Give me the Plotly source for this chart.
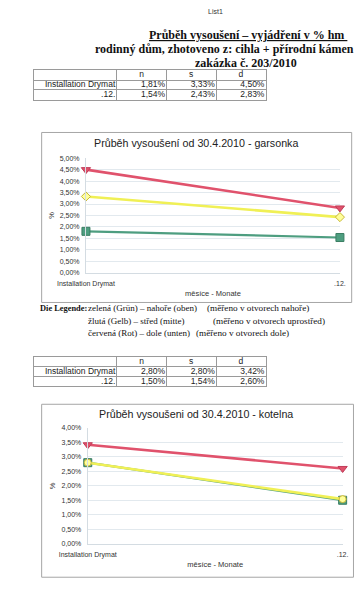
import plotly.graph_objects as go

W, H = 364, 600

# ---------------- data ----------------
categories = ["Installation Drymat", ".12."]
series_names = ["n", "s", "d"]

garsonka_n = [1.81, 1.54]
garsonka_s = [3.33, 2.43]
garsonka_d = [4.50, 2.83]

kotelna_n = [2.80, 1.50]
kotelna_s = [2.80, 1.54]
kotelna_d = [3.42, 2.60]

chart_titles = ["Průběh vysoušení od 30.4.2010 - garsonka",
                "Průběh vysoušeni od 30.4.2010 - kotelna"]
x_title = "měsíce - Monate"
y_title = "%"

heading_lines = ["<u>Průběh vysoušení – vyjádření v % hm </u>",
                 "rodinný dům, zhotoveno z: cihla + přírodní kámen",
                 "zakázka č. 203/2010"]

legend_label = "Die Legende:"
legend_col1 = ["zelená (Grün) – nahoře (oben)",
               "žlutá (Gelb) – střed (mitte)",
               "červená (Rot) – dole (unten)"]
legend_col2 = ["(měřeno v otvorech nahoře)",
               "(měřeno v otvorech uprostřed)",
               "(měřeno v otvorech dole)"]

# ---------------- helpers ----------------
def fx(x):
    return x / W

def fy(y):
    return 1 - y / H

def pct(v):
    return f"{v:.2f}".replace(".", ",") + "%"

SANS = "Liberation Sans, Arial, sans-serif"
SERIF = "Liberation Serif, Times New Roman, serif"

styles = {
    "n": dict(color="#4e9e80", width=2.2, symbol="square", msize=8,
              mfill="#4e9e80", medge="#3a7d63"),
    "s": dict(color="#f0f055", width=2.6, symbol="diamond", msize=7,
              mfill="#ffff9a", medge="#c8b838"),
    "d": dict(color="#e0526c", width=2.6, symbol="triangle-down", msize=8,
              mfill="#e0526c", medge="#c03c58"),
}

fig = go.Figure()
layout_axes = {}
shapes = []
annotations = []

# ---------------- tables (text marks on their own grid axes) ----------------
col_widths = [91, 55, 55, 55]
col_bounds = [0]
for w in col_widths:
    col_bounds.append(col_bounds[-1] + w)
TABLE_LINE = "#9a9a9a"
TFONT = dict(family=SANS, size=8.5, color="#222")

def add_table(idx, n, s, d, top):
    xs, ys = f"x{idx}", f"y{idx}"
    fig.add_trace(go.Scatter(
        x=[(col_bounds[j] + col_bounds[j + 1]) / 2 for j in range(1, 4)],
        y=[0.5] * 3, text=series_names, mode="text",
        textposition="middle center", textfont=TFONT,
        xaxis=xs, yaxis=ys, showlegend=False, hoverinfo="skip", cliponaxis=False))
    fig.add_trace(go.Scatter(
        x=[col_bounds[1] - 1.5] * len(categories),
        y=[r + 1.5 for r in range(len(categories))], text=categories,
        mode="text", textposition="middle left", textfont=TFONT,
        xaxis=xs, yaxis=ys, showlegend=False, hoverinfo="skip", cliponaxis=False))
    for j, vals in enumerate((n, s, d), start=2):
        fig.add_trace(go.Scatter(
            x=[col_bounds[j] - 1.5] * len(vals),
            y=[r + 1.5 for r in range(len(vals))], text=[pct(v) for v in vals],
            mode="text", textposition="middle left", textfont=TFONT,
            xaxis=xs, yaxis=ys, showlegend=False, hoverinfo="skip", cliponaxis=False))
    nrows = len(categories) + 1
    layout_axes[f"xaxis{idx}"] = dict(
        domain=[fx(6), fx(6 + col_bounds[-1])], anchor=ys,
        range=[0, col_bounds[-1]], tickvals=col_bounds, showticklabels=False,
        showgrid=True, gridcolor=TABLE_LINE, gridwidth=1, zeroline=False,
        showline=True, mirror=True, linecolor=TABLE_LINE, linewidth=1,
        ticks="", fixedrange=True)
    layout_axes[f"yaxis{idx}"] = dict(
        domain=[fy(top + 10 * nrows), fy(top)], anchor=xs,
        range=[nrows, 0], tickvals=list(range(nrows + 1)), showticklabels=False,
        showgrid=True, gridcolor=TABLE_LINE, gridwidth=1, zeroline=False,
        showline=True, mirror=True, linecolor=TABLE_LINE, linewidth=1,
        ticks="", fixedrange=True)

add_table(3, garsonka_n, garsonka_s, garsonka_d, 67)
add_table(4, kotelna_n, kotelna_s, kotelna_d, 357)

# ---------------- charts ----------------
charts = [
    dict(vals=(garsonka_n, garsonka_s, garsonka_d), xs="x", ys="y",
         xd=[63, 344], yd=[272, 156], ymax=5.0, box=[14, 130, 357, 302],
         title_y=141),
    dict(vals=(kotelna_n, kotelna_s, kotelna_d), xs="x2", ys="y2",
         xd=[65, 347], yd=[546, 429], ymax=4.0, box=[14, 405, 359, 580],
         title_y=415),
]

for i, ch in enumerate(charts):
    for name, vals in zip(series_names, ch["vals"]):
        st = styles[name]
        sym = st["symbol"]
        if i == 1 and name == "s":
            sym = "circle"
        fig.add_trace(go.Scatter(
            x=categories, y=vals, xaxis=ch["xs"], yaxis=ch["ys"],
            mode="lines+markers", name=name, showlegend=False,
            line=dict(color=st["color"], width=st["width"]),
            marker=dict(symbol=sym, size=st["msize"], color=st["mfill"],
                        line=dict(color=st["medge"], width=1)),
            cliponaxis=False,
        ))
    xk = "xaxis" if i == 0 else "xaxis2"
    yk = "yaxis" if i == 0 else "yaxis2"
    layout_axes[xk] = dict(
        domain=[fx(ch["xd"][0]), fx(ch["xd"][1])], anchor=ch["ys"],
        type="category", range=[0, 1], showgrid=False,
        showline=True, linecolor="#d4dce2", linewidth=1,
        ticks="", ticklabelstandoff=4,
        tickfont=dict(family=SANS, size=7, color="#333"),
        title=dict(text=x_title, standoff=3,
                   font=dict(family=SANS, size=7.5, color="#333")),
        fixedrange=True,
    )
    layout_axes[yk] = dict(
        domain=[fy(ch["yd"][0]), fy(ch["yd"][1])], anchor=ch["xs"],
        range=[0, ch["ymax"]], dtick=0.5, tickformat=".2f", ticksuffix="%",
        showgrid=True, gridcolor="#e2e9ee", gridwidth=1, zeroline=False,
        showline=True, linecolor="#d4dce2", linewidth=1,
        ticks="", ticklabelstandoff=4,
        tickfont=dict(family=SANS, size=7, color="#333"),
        title=dict(text=y_title, standoff=4,
                   font=dict(family=SANS, size=7.5, color="#333")),
        fixedrange=True,
    )
    b = ch["box"]
    shapes.append(dict(type="rect", xref="paper", yref="paper",
                       x0=fx(b[0]), x1=fx(b[2]), y0=fy(b[3]), y1=fy(b[1]),
                       line=dict(color="#a6a6a6", width=1), layer="below"))
    annotations.append(dict(text=chart_titles[i], x=fx(185), y=fy(ch["title_y"]),
                            xref="paper", yref="paper", showarrow=False,
                            xanchor="center", yanchor="middle",
                            font=dict(family=SANS, size=10.7, color="#222")))

# ---------------- header texts ----------------
annotations.append(dict(text="List1", x=fx(206), y=fy(8), xref="paper", yref="paper",
                        showarrow=False, xanchor="center", yanchor="middle",
                        font=dict(family=SANS, size=7, color="#333")))
for txt, cx, cy in zip(heading_lines, [242, 216, 240], [31, 46, 60]):
    annotations.append(dict(text=f"<b>{txt}</b>", x=fx(cx), y=fy(cy),
                            xref="paper", yref="paper", showarrow=False,
                            xanchor="center", yanchor="middle",
                            font=dict(family=SERIF, size=12, color="#111")))

# ---------------- legend texts ----------------
annotations.append(dict(text=f"<b>{legend_label}</b>", x=fx(10), y=fy(308),
                        xref="paper", yref="paper", showarrow=False,
                        xanchor="left", yanchor="middle",
                        font=dict(family=SERIF, size=8.4, color="#111")))
for txt, x2, txt2, cy in zip(legend_col1, [195, 201, 183], legend_col2, [308, 321, 333]):
    annotations.append(dict(text=txt, x=fx(63), y=fy(cy), xref="paper", yref="paper",
                            showarrow=False, xanchor="left", yanchor="middle",
                            font=dict(family=SERIF, size=9, color="#111")))
    annotations.append(dict(text=txt2, x=fx(x2), y=fy(cy), xref="paper", yref="paper",
                            showarrow=False, xanchor="left", yanchor="middle",
                            font=dict(family=SERIF, size=9.2, color="#111")))

fig.update_layout(
    width=W, height=H, autosize=False,
    margin=dict(l=0, r=0, t=0, b=0),
    paper_bgcolor="white", plot_bgcolor="white",
    separators=", ",
    showlegend=False,
    shapes=shapes, annotations=annotations,
    **layout_axes,
)

fig.write_html("out.html", config=dict(displayModeBar=False, staticPlot=True),
               post_script="document.body.style.margin='0';")
